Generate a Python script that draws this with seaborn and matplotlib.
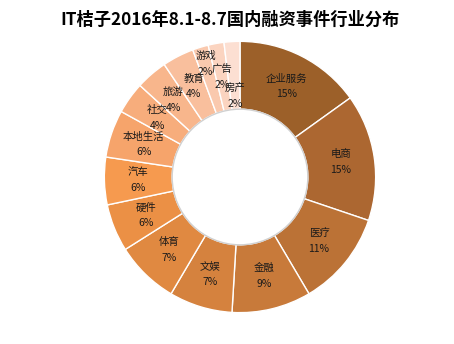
import numpy as np
import matplotlib
matplotlib.use("Agg")
import matplotlib.pyplot as plt
import seaborn as sns

sns.set_theme(style="white")
plt.rcParams['font.family'] = ['Noto Sans CJK SC', 'DejaVu Sans']

title = "IT桔子2016年8.1-8.7国内融资事件行业分布"
categories = ["企业服务", "电商", "医疗", "金融", "文娱", "体育", "硬件", "汽车",
              "本地生活", "社交", "旅游", "教育", "游戏", "广告", "房产"]
counts = [8, 8, 6, 5, 4, 4, 3, 3, 3, 2, 2, 2, 1, 1, 1]
pct_labels = ["15%", "15%", "11%", "9%", "7%", "7%", "6%", "6%",
              "6%", "4%", "4%", "4%", "2%", "2%", "2%"]

colors = ["#9C6029", "#AC6731", "#BB7236", "#C87A3A", "#D5823E", "#E08941",
          "#EB9045", "#F69A4F", "#F6A46B", "#F7AD7C", "#F8B68C", "#F9BF9D",
          "#FAC9AE", "#FBD4C0", "#FCDFD2"]
label_r = [0.75] * 15
label_r[12] = 0.87
label_r[14] = 0.60

W, H = 454, 344
fig = plt.figure(figsize=(W / 100, H / 100), dpi=100)
cx, cy, R = 240, 177, 137
ax = fig.add_axes([(cx - R) / W, (H - cy - R) / H, 2 * R / W, 2 * R / H])

wedges, _ = ax.pie(counts, colors=colors, startangle=90, counterclock=False,
                   radius=1.0,
                   wedgeprops=dict(width=0.5, edgecolor="white", linewidth=1.0))

total = sum(counts)
cum = np.cumsum([0] + counts)
for i, (name, pct) in enumerate(zip(categories, pct_labels)):
    mid = (cum[i] + cum[i + 1]) / 2 / total * 2 * np.pi
    x = label_r[i] * np.sin(mid)
    y = label_r[i] * np.cos(mid)
    ax.text(x, y + 0.058, name, ha="center", va="center", fontsize=7.5, color="#1a1a1a")
    ax.text(x, y - 0.058, pct, ha="center", va="center", fontsize=7.5, color="#1a1a1a")

# subtle inner shadow ring
ax.add_patch(plt.Circle((0, 0), 0.5, fill=False, edgecolor="#d0d0d0", linewidth=1.0))
ax.set_xlim(-1.01, 1.01)
ax.set_ylim(-1.01, 1.01)
ax.set_aspect("equal")
ax.axis("off")

fig.text(230 / W, 1 - 20 / H, title, ha="center", va="center",
         fontsize=12.4, fontweight="bold", color="black")

fig.savefig("out.png", dpi=100, facecolor="white")
